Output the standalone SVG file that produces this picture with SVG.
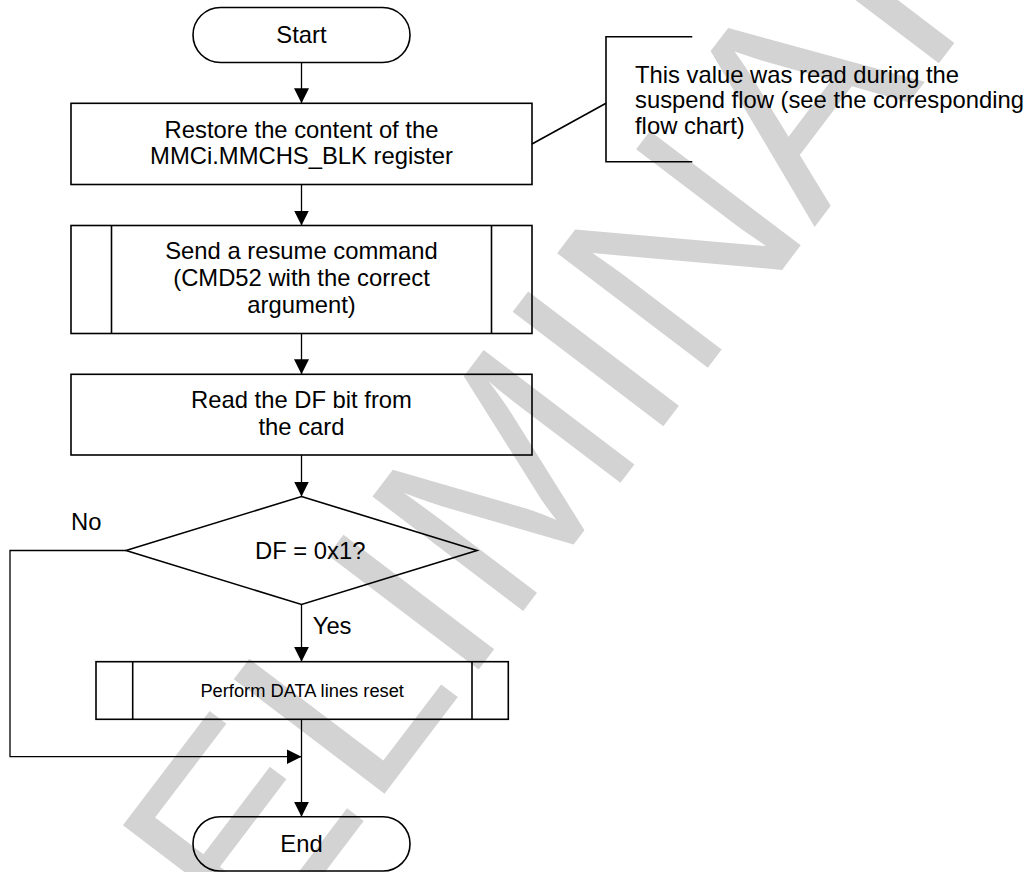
<svg xmlns="http://www.w3.org/2000/svg" width="1029" height="872" viewBox="0 0 1029 872">
<defs>
<style>
.shape{fill:none;stroke:#000;stroke-width:1.6}
.conn{fill:none;stroke:#000;stroke-width:1.3}
.t{font-family:"Liberation Sans",Arial,sans-serif;font-size:23.8px;fill:#000}
.c{text-anchor:middle}
.wm{font-family:"Liberation Sans",Arial,sans-serif;font-size:275px;fill:#d3d3d3}
</style>
<marker id="arr" markerUnits="userSpaceOnUse" markerWidth="16" markerHeight="16" refX="15" refY="7.5" orient="auto">
<path d="M0,0 L15,7.5 L0,15 Z" fill="#000"/>
</marker>
</defs>
<rect width="1029" height="872" fill="#fff"/>
<g id="watermark">
<text class="wm" transform="translate(29,1262) rotate(-52.8)">PRELIMINARY</text>
</g>
<g id="connectors">
<line class="conn" x1="301.5" y1="62.7" x2="301.5" y2="103.3" marker-end="url(#arr)"/>
<line class="conn" x1="301.5" y1="184.5" x2="301.5" y2="225.5" marker-end="url(#arr)"/>
<line class="conn" x1="301.5" y1="333.5" x2="301.5" y2="374.3" marker-end="url(#arr)"/>
<line class="conn" x1="301.5" y1="455" x2="301.5" y2="496.5" marker-end="url(#arr)"/>
<line class="conn" x1="301.5" y1="604.5" x2="301.5" y2="661.7" marker-end="url(#arr)"/>
<line class="conn" x1="301.5" y1="719.3" x2="301.5" y2="816.7" marker-end="url(#arr)"/>
<polyline class="conn" points="126,550.5 10,550.5 10,756.7 301.5,756.7" marker-end="url(#arr)"/>
<line class="conn" x1="532" y1="144" x2="606" y2="103.3" style="stroke-width:1.6"/>
<text class="t" x="71" y="530">No</text>
<text class="t" x="312.7" y="634.3">Yes</text>
</g>
<g id="start">
<rect class="shape" x="193" y="7.5" width="217" height="55" rx="27.5"/>
<text class="t c" x="301.5" y="42.7">Start</text>
</g>
<g id="restore">
<rect class="shape" x="71" y="103.3" width="461" height="81.2"/>
<text class="t c" x="301.5" y="137.5">Restore the content of the</text>
<text class="t c" x="301.5" y="164.3">MMCi.MMCHS_BLK register</text>
</g>
<g id="note">
<polyline class="shape" points="692.3,36.7 606,36.7 606,161.7 692.3,161.7"/>
<text class="t" x="635" y="82.5">This value was read during the</text>
<text class="t" x="635" y="108">suspend flow (see the corresponding</text>
<text class="t" x="635" y="133.5">flow chart)</text>
</g>
<g id="resume">
<rect class="shape" x="71" y="225.5" width="461" height="108"/>
<line class="shape" x1="111.5" y1="225.5" x2="111.5" y2="333.5"/>
<line class="shape" x1="491.5" y1="225.5" x2="491.5" y2="333.5"/>
<text class="t c" x="301.5" y="259.3">Send a resume command</text>
<text class="t c" x="301.5" y="286">(CMD52 with the correct</text>
<text class="t c" x="301.5" y="312.5">argument)</text>
</g>
<g id="readdf">
<rect class="shape" x="71" y="374.3" width="461" height="80.7"/>
<text class="t c" x="301.5" y="407.7">Read the DF bit from</text>
<text class="t c" x="301.5" y="435">the card</text>
</g>
<g id="decision">
<polygon class="shape" points="301.5,496.5 477,550.5 301.5,604.5 126,550.5"/>
<text class="t" x="255" y="559.3">DF = 0x1?</text>
</g>
<g id="reset">
<rect class="shape" x="96" y="661.7" width="412.3" height="57.6"/>
<line class="shape" x1="132.7" y1="661.7" x2="132.7" y2="719.3"/>
<line class="shape" x1="472" y1="661.7" x2="472" y2="719.3"/>
<text class="t c" x="302.2" y="696.7" style="font-size:18.3px">Perform DATA lines reset</text>
</g>
<g id="end">
<rect class="shape" x="193" y="816.7" width="217" height="54.3" rx="27.1"/>
<text class="t c" x="301.5" y="851.7">End</text>
</g>
</svg>
